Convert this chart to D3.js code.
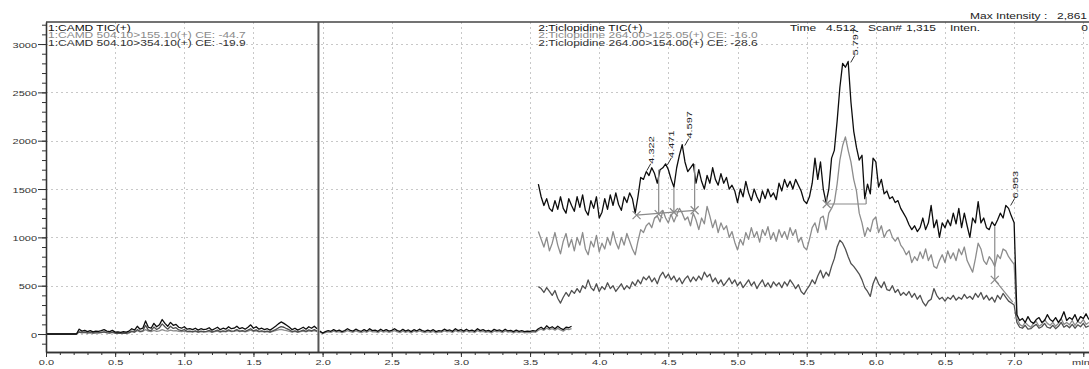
<!DOCTYPE html>
<html>
<head>
<meta charset="utf-8">
<script src="https://cdn.jsdelivr.net/npm/d3@7/dist/d3.min.js"></script>
<style>
  body { margin: 0; background: #fff; }
  svg { display: block; font-family: "Liberation Sans", Arial, sans-serif; }
</style>
</head>
<body>
<div id="chart"></div>
<script>
// scan grid (min)
const scanStep = 0.02;

// segment 1: CAMD, starts at 0.00 min
const camdStart = 0.00;
const camdTic = [0,0,0,0,0,0,0,0,0,0,0,0,
    50,30,38,25,35,22,30,28,35,45, 30,25,38,20,22,18,25,20,30,55,
    40,80,50,60,135,70,60,110,75,95, 150,110,80,120,90,100,70,60,75,50,
    55,45,60,40,55,45,50,65,40,55, 70,45,60,50,75,55,60,80,55,65,
    50,70,95,60,75,50,60,45,55,40, 60,80,105,125,110,90,70,45,60,40,
    55,70,50,75,60,80,55];
const camd155 = [0,0,0,0,0,0,0,0,0,0,0,0,
    25,18,22,15,20,12,18,15,20,22, 18,15,20,12,15,10,15,12,18,25,
    20,35,22,28,45,30,25,38,28,32, 45,35,30,40,32,35,28,25,30,22,
    25,20,28,18,25,20,22,28,18,25, 30,20,28,22,32,25,28,35,25,30,
    22,30,40,28,32,22,28,20,25,18, 28,35,42,48,40,35,28,20,28,18,
    25,30,22,32,28,35,25];
const camd354 = [0,0,0,0,0,0,0,0,0,0,0,0,
    20,12,16,10,15,10,12,13,15,23, 12,10,18,8,7,8,10,8,12,30,
    20,45,28,32,90,40,35,72,47,63, 105,75,50,80,58,65,42,35,45,28,
    30,25,32,22,30,25,28,37,22,30, 40,25,32,28,43,30,32,45,30,35,
    28,40,55,32,43,28,32,25,30,22, 32,45,63,77,70,55,42,25,32,22,
    30,40,28,43,32,45,30];

// segment 2 before the ticlopidine window
const gapStart = 1.98;
const gapTic = [30,10,25,35,28,45,30,40,25,35, 55,38,30,50,35,28,45,30,55,35,
    40,28,50,32,45,30,38,55,35,28, 48,30,42,25,45,32,50,35,28,40,
    30,45,25,35,30,50,35,42,28,55, 35,45,30,50,32,40,28,55,35,45,
    30,38,25,48,35,42,28,50,32,38, 25,40,28,35,25,30,28,35,30,55,
    70,50,85,60,75,55,80,60,45,70, 65,80];
const gap125 = [20,5,15,22,18,30,20,25,15,22, 35,25,18,32,22,15,28,18,35,22,
    25,15,32,20,28,18,25,35,22,15, 30,18,28,12,30,20,32,22,15,25,
    18,28,12,22,18,32,22,28,15,35, 22,28,18,32,20,25,15,35,22,28,
    18,25,12,30,22,28,15,32,20,25, 12,25,15,22,12,18,15,22,18,40,
    50,38,60,45,55,40,58,42,30,50, 45,55];

// segment 2: Ticlopidine, starts at 3.56 min
const ticloStart = 3.56;
const ticloTic = [1550,1420,1330,1400,1300,1270,1380,1290,1420,1300,
    1250,1400,1330,1270,1420,1310,1440,1280,1230,1380,
    1300,1420,1200,1260,1400,1290,1440,1330,1460,1340,
    1280,1420,1360,1460,1400,1250,1420,1620,1600,1680,
    1640,1720,1660,1560,1700,1720,1760,1700,1600,1520,
    1720,1850,1960,1780,1680,1720,1760,1560,1700,1580,
    1500,1640,1560,1720,1600,1540,1660,1560,1620,1500,
    1540,1480,1360,1500,1420,1580,1460,1380,1500,1420,
    1360,1480,1400,1500,1420,1460,1390,1560,1480,1600,
    1520,1580,1500,1600,1540,1480,1380,1350,1420,1560,
    1820,1600,1780,1500,1360,1500,1820,1900,2200,2550,
    2800,2760,2820,2400,2100,1930,1800,1850,1400,1550,
    1450,1820,1780,1520,1600,1450,1480,1400,1420,1360,
    1380,1300,1250,1200,1130,1080,1120,1060,1100,1200,
    1080,1150,1330,1100,1180,1000,1150,1100,1180,1120,
    1250,1140,1300,1100,1250,1120,1000,1200,1150,1370,
    1150,1200,1100,1080,1160,1120,1180,1250,1200,1330,
    1300,1220,1150,200,140,160,120,180,130,110,
    150,170,120,140,200,150,130,170,120,160,
    230,140,170,150,200,130,180,160,210,150];
const ticlo125 = [1060,980,900,1000,860,940,1050,920,830,960,
    1040,900,980,860,1000,920,1050,880,820,960,
    900,1020,850,940,880,1000,920,1060,950,880,
    1000,920,1040,960,880,820,960,1080,1050,1120,
    1150,1100,1200,1220,1160,1280,1200,1150,1240,1160,
    1230,1300,1250,1180,1210,1120,1250,1180,1080,1200,
    1140,1320,1220,1100,1180,1050,1150,1080,1120,1000,
    1060,950,870,980,920,1050,980,1100,1000,1060,
    950,1080,1020,1110,980,1050,960,1080,1000,1060,
    980,1100,1020,1080,950,1000,900,870,980,1100,
    1150,1050,1200,1220,1080,1250,1300,1360,1550,1800,
    1950,2040,1900,1780,1600,1480,1250,1150,1010,1100,
    1060,1180,1210,1050,1120,1000,1060,1080,1000,960,
    1000,920,880,820,860,740,800,760,850,780,
    880,760,820,700,680,760,820,740,860,780,
    840,760,880,820,900,760,700,640,780,940,
    880,760,720,800,760,700,820,780,880,860,
    800,760,720,160,100,80,120,90,70,110,
    130,80,100,150,110,90,120,80,110,160,
    100,120,95,140,90,130,110,150,100,120];
const ticlo154 = [490,470,430,480,440,400,450,370,320,380,
    430,390,450,420,470,430,500,470,560,480,
    450,520,440,490,460,530,470,500,440,480,
    520,460,500,470,540,500,560,520,590,560,
    600,540,580,520,600,640,580,620,560,600,
    540,580,520,570,600,540,590,550,600,560,
    640,590,620,540,580,520,560,500,540,580,
    520,560,500,540,480,520,560,500,540,470,
    520,560,490,530,480,540,500,530,480,540,
    500,560,520,470,510,440,410,460,500,560,
    520,600,660,580,640,600,700,780,900,970,
    940,880,800,730,700,660,620,560,480,440,
    390,520,590,520,480,540,460,450,500,430,
    460,400,430,400,440,380,420,360,400,330,
    290,340,360,470,400,360,380,340,380,360,
    400,350,380,360,410,370,390,360,420,380,
    430,360,400,350,380,330,400,360,420,380,
    340,320,300,120,70,60,90,50,55,80,
    100,60,75,110,70,60,90,55,80,120,
    70,90,65,100,60,95,75,110,70,85];

// peak table
const peakTimes = [4.322, 4.471, 4.597, 5.797, 6.953];
const peakHeights = [1700, 1760, 1960, 2820, 1340];

// integration baselines, drop lines and their end marks
const baseFrom = [[4.27, 1230], [5.645, 1345], [6.86, 560]];
const baseTo = [[4.69, 1280], [5.93, 1345], [6.99, 330]];
const dropTimes = [4.43, 4.54, 4.69, 5.645, 5.93, 6.86];
const dropLow = [1240, 1260, 1280, 1345, 1345, 560];
const dropHigh = [1700, 1520, 1760, 1420, 1420, 1110];
const markTimes = [4.27, 4.43, 4.54, 4.69, 5.645, 6.86];
const markValues = [1230, 1240, 1260, 1280, 1345, 560];

// axes
const xMajor = [0, 0.5, 1.0, 1.5, 2.0, 2.5, 3.0, 3.5, 4.0, 4.5, 5.0, 5.5, 6.0, 6.5, 7.0, 7.5];
const xLabels = ['0.0','0.5','1.0','1.5','2.0','2.5','3.0','3.5','4.0','4.5','5.0','5.5','6.0','6.5','7.0','min'];
const yMajor = [0, 500, 1000, 1500, 2000, 2500, 3000];

const camdLegend = ['1:CAMD TIC(+)', '1:CAMD 504.10>155.10(+) CE: -44.7', '1:CAMD 504.10>354.10(+) CE: -19.9'];
const ticloLegend = ['2:Ticlopidine TIC(+)', '2:Ticlopidine 264.00>125.05(+) CE: -16.0', '2:Ticlopidine 264.00>154.00(+) CE: -28.6'];
const segmentSplit = 1.97;

const width = 1089, height = 369;
const squeeze = 0.72;   // the source picture is squashed vertically
const colors = ['#0d0d0d', '#8c8c8c', '#505050'];

const svg = d3.select('#chart').append('svg')
    .attr('width', width)
    .attr('height', height);

const x = d3.scaleLinear().domain([0, 7.55]).range([46, 1090.2]);
const y = d3.scaleLinear().domain([-186, 3228]).range([352, 22]);

// grid
const grid = svg.append('g')
    .attr('stroke', '#c8c8c8')
    .attr('stroke-dasharray', '2,3')
    .attr('stroke-width', 1);

grid.selectAll('.vg')
    .data(xMajor.slice(1))
    .join('line')
    .attr('x1', d => Math.round(x(d)) + 0.5)
    .attr('x2', d => Math.round(x(d)) + 0.5)
    .attr('y1', y.range()[1])
    .attr('y2', y.range()[0]);

grid.selectAll('.hg')
    .data(yMajor)
    .join('line')
    .attr('x1', x.range()[0])
    .attr('x2', width)
    .attr('y1', d => Math.round(y(d)) + 0.5)
    .attr('y2', d => Math.round(y(d)) + 0.5);

// traces
function drawTrace(values, start, color) {
    const line = d3.line()
        .x((d, i) => x(start + i * scanStep))
        .y(d => y(d));
    svg.append('path')
        .datum(values)
        .attr('fill', 'none')
        .attr('stroke', color)
        .attr('stroke-width', 1.3)
        .attr('stroke-linejoin', 'round')
        .attr('d', line);
}

drawTrace(camd155, camdStart, colors[1]);
drawTrace(camd354, camdStart, colors[2]);
drawTrace(camdTic, camdStart, colors[0]);
drawTrace(gap125, gapStart, colors[1]);
drawTrace(gapTic, gapStart, colors[0]);
drawTrace(ticlo154, ticloStart, colors[2]);
drawTrace(ticlo125, ticloStart, colors[1]);
drawTrace(ticloTic, ticloStart, colors[0]);

// integration marks
const marks = svg.append('g')
    .attr('stroke', '#8a8a8a')
    .attr('stroke-width', 1.2)
    .attr('fill', 'none');

marks.selectAll('.base')
    .data(baseFrom)
    .join('line')
    .attr('x1', d => x(d[0]))
    .attr('y1', d => y(d[1]))
    .attr('x2', (d, i) => x(baseTo[i][0]))
    .attr('y2', (d, i) => y(baseTo[i][1]));

marks.selectAll('.drop')
    .data(dropTimes)
    .join('line')
    .attr('x1', d => x(d))
    .attr('x2', d => x(d))
    .attr('y1', (d, i) => y(dropLow[i]))
    .attr('y2', (d, i) => y(dropHigh[i]));

marks.selectAll('.mark')
    .data(markTimes)
    .join('path')
    .attr('d', (d, i) => {
        const cx = x(d), cy = y(markValues[i]);
        return `M${cx - 4},${cy - 4}L${cx + 4},${cy + 4}M${cx - 4},${cy + 4}L${cx + 4},${cy - 4}`;
    });

// peak labels
const peaks = svg.append('g')
    .attr('font-size', 11)
    .attr('fill', '#222');

peaks.selectAll('text')
    .data(peakTimes)
    .join('text')
    .attr('transform', (d, i) => `translate(${x(d) + 10},${y(peakHeights[i]) - 6}) rotate(-90) scale(1,${squeeze})`)
    .text(d => d.toFixed(3));

peaks.selectAll('line')
    .data(peakTimes)
    .join('line')
    .attr('stroke', '#333')
    .attr('x1', d => x(d) + 3)
    .attr('x2', d => x(d) + 7)
    .attr('y1', (d, i) => y(peakHeights[i]) + 1)
    .attr('y2', (d, i) => y(peakHeights[i]) - 6);

// frame and segment divider
svg.append('line')
    .attr('x1', x.range()[0]).attr('x2', width)
    .attr('y1', y.range()[1]).attr('y2', y.range()[1])
    .attr('stroke', '#444').attr('stroke-width', 1.5);

svg.append('line')
    .attr('x1', x(segmentSplit)).attr('x2', x(segmentSplit))
    .attr('y1', y.range()[1]).attr('y2', y.range()[0])
    .attr('stroke', '#555').attr('stroke-width', 2);

// axes
function styleAxis(g) {
    g.attr('font-family', null).attr('font-size', null);
    g.select('.domain').attr('stroke', '#333').attr('stroke-width', 1.3);
    g.selectAll('.tick line').attr('stroke', '#333');
}

svg.append('g')
    .attr('transform', `translate(0,${y.range()[0]})`)
    .call(d3.axisBottom(x).tickValues(d3.range(0, 7.55, 0.1)).tickSize(3).tickSizeOuter(0).tickFormat(''))
    .call(styleAxis);

const xAxis = svg.append('g')
    .attr('transform', `translate(0,${y.range()[0]})`)
    .call(d3.axisBottom(x).tickValues(xMajor).tickSize(5).tickSizeOuter(0).tickFormat((d, i) => xLabels[i]))
    .call(styleAxis);

xAxis.selectAll('text')
    .attr('dy', null)
    .attr('y', 13.5 / squeeze)
    .attr('transform', `scale(1,${squeeze})`)
    .attr('font-size', 11)
    .attr('fill', '#333')
    .filter(d => d === 7.5)
    .attr('text-anchor', 'end')
    .attr('x', 6);

svg.append('g')
    .attr('transform', `translate(${x.range()[0]},0)`)
    .call(d3.axisLeft(y).tickValues(d3.range(-100, 3201, 100)).tickSize(4).tickSizeOuter(0).tickFormat(''))
    .call(styleAxis);

const yAxis = svg.append('g')
    .attr('transform', `translate(${x.range()[0]},0)`)
    .call(d3.axisLeft(y).tickValues(yMajor).tickSize(8).tickSizeOuter(0).tickFormat(d => d))
    .call(styleAxis);

yAxis.selectAll('text')
    .attr('dy', null)
    .attr('x', -9)
    .attr('y', 0)
    .attr('transform', `translate(0,3.2) scale(1,${squeeze})`)
    .attr('font-size', 11)
    .attr('fill', '#333');

// legends and header
function label(txt, tx, ty, fill, anchor) {
    svg.append('text')
        .attr('transform', `translate(${tx},${ty}) scale(1,${squeeze})`)
        .attr('font-size', 12)
        .attr('fill', fill)
        .attr('text-anchor', anchor || 'start')
        .text(txt);
}

const legendFill = ['#111', '#8a8a8a', '#333'];
camdLegend.forEach((t, i) => label(t, 48, 30.5 + i * 7.6, legendFill[i]));
ticloLegend.forEach((t, i) => label(t, x(ticloStart), 30.5 + i * 7.6, legendFill[i]));

label('Max Intensity :', 970, 18.5, '#222');
label('2,861', 1087, 18.5, '#222', 'end');
label('Time', 790, 30.5, '#222');
label('4.512', 826, 30.5, '#222');
label('Scan#', 868, 30.5, '#222');
label('1,315', 906, 30.5, '#222');
label('Inten.', 950, 30.5, '#222');
label('0', 1088, 30.5, '#222', 'end');
</script>
</body>
</html>
